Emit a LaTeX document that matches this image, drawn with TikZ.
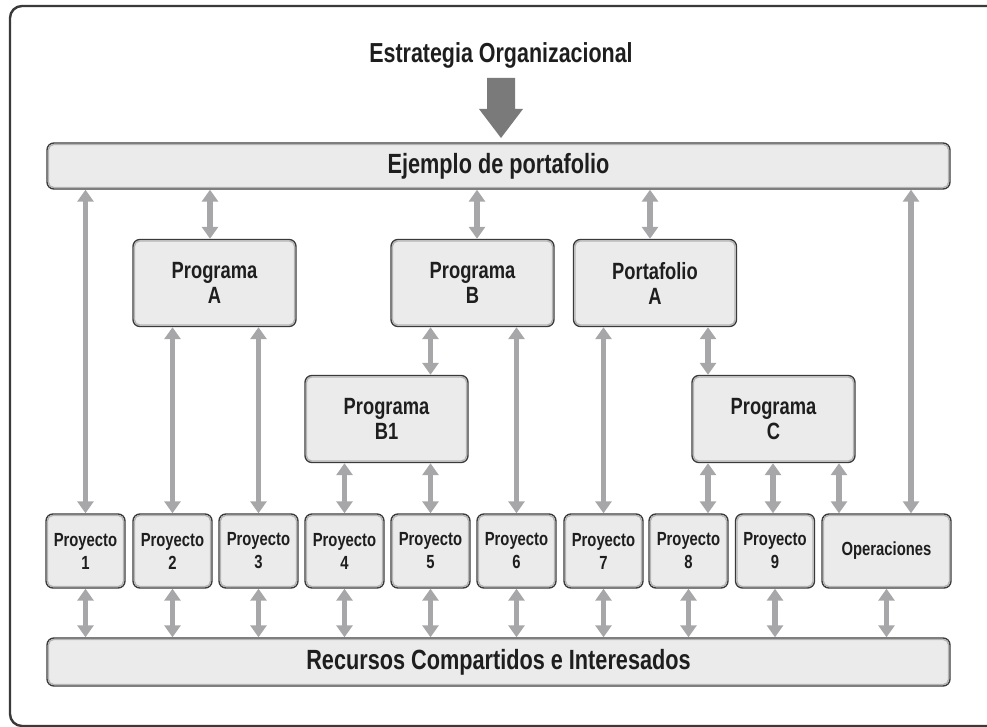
\documentclass[tikz,border=0pt]{standalone}
\usepackage{fontspec}
\setmainfont[FakeStretch=0.78]{Liberation Sans}
\usetikzlibrary{arrows.meta,calc}
\definecolor{boxfill}{HTML}{EBEBEB}
\definecolor{boxline}{HTML}{3A3A3A}
\definecolor{bandgray}{HTML}{B4B4B4}
\definecolor{arrgray}{HTML}{A7A7A9}
\definecolor{bigarr}{HTML}{7A7A7A}
\definecolor{txt}{HTML}{1E1E1E}
\begin{document}
\begin{tikzpicture}[x=1pt,y=-1pt,
  box/.style={draw=boxline, fill=boxfill, line width=1.4pt, rounded corners=7pt,
    inner sep=0pt, align=center, text=txt},
  band/.style={bandgray, line width=1.4pt, rounded corners=5pt},
  bar/.style={box, minimum width=903pt, font=\bfseries\fontsize{27.8}{29}\selectfont},
  prog/.style={box, minimum width=163pt, minimum height=87pt,
    font=\bfseries\fontsize{23.5}{25}\selectfont},
  proj/.style={box, minimum width=79pt, minimum height=74pt,
    font=\bfseries\fontsize{19}{23}\selectfont},
  bia/.style={draw=arrgray, line width=5.5pt,
    {Triangle[width=16pt,length=12pt]}-{Triangle[width=16pt,length=12pt]}}
]
\useasboundingbox (0,0) rectangle (987,727);
\begin{scope}
\clip (0,0) rectangle (987,727);
\draw[boxline, line width=2.4pt, rounded corners=12pt] (10,6) rectangle (1010,726);
\end{scope}

\node[text=txt, font=\bfseries\fontsize{27.5}{29}\selectfont] (title) at (501,55) {Estrategia Organizacional};
\fill[bigarr] (487,78) -- (515,78) -- (515,109) -- (523,109) -- (501,138) -- (479,109) -- (487,109) -- cycle;

\node[bar, minimum height=46pt] (ej) at (498.5,166) {Ejemplo de portafolio};
\node[bar, minimum height=48pt] (rec) at (498.5,662) {Recursos Compartidos e Interesados};

\node[prog] (pa) at (214.5,283) {Programa\\A};
\node[prog] (pb) at (472.5,283) {Programa\\B};
\node[prog] (pfa) at (655,283) {Portafolio\\A};
\node[prog] (pb1) at (386.5,419) {Programa\\B1};
\node[prog] (pc) at (773.5,419) {Programa\\C};

\node[proj] (p1) at (85.5,551) {Proyecto\\1};
\node[proj] (p2) at (172.5,551) {Proyecto\\2};
\node[proj] (p3) at (258.5,551) {Proyecto\\3};
\node[proj] (p4) at (344.5,551) {Proyecto\\4};
\node[proj] (p5) at (430.5,551) {Proyecto\\5};
\node[proj] (p6) at (516.5,551) {Proyecto\\6};
\node[proj] (p7) at (603.5,551) {Proyecto\\7};
\node[proj] (p8) at (688.5,551) {Proyecto\\8};
\node[proj] (p9) at (775,551) {Proyecto\\9};
\node[proj, minimum width=129pt] (op) at (886.5,551) {Operaciones};

% inner shading band of every box
\foreach \n in {ej,rec,pa,pb,pfa,pb1,pc,p1,p2,p3,p4,p5,p6,p7,p8,p9,op}
  \draw[band] ([shift={(2.2pt,-2.2pt)}]\n.north west) rectangle ([shift={(-2.2pt,2.2pt)}]\n.south east);

\coordinate (xpa) at (210,0);
\coordinate (xpb) at (477,0);
\coordinate (xpfa) at (650,0);
\coordinate (xop) at (911,0);
\coordinate (xc8) at (708,0);
\coordinate (xc9) at (773,0);
\coordinate (xcop) at (839,0);

% from portfolio bar
\draw[bia] (ej.south -| p1.north) -- (p1.north);
\draw[bia] (ej.south -| xpa) -- (pa.north -| xpa);
\draw[bia] (ej.south -| xpb) -- (pb.north -| xpb);
\draw[bia] (ej.south -| xpfa) -- (pfa.north -| xpfa);
\draw[bia] (ej.south -| xop) -- (op.north -| xop);

% programs to projects
\draw[bia] (pa.south -| p2.north) -- (p2.north);
\draw[bia] (pa.south -| p3.north) -- (p3.north);
\draw[bia] (pb.south -| p5.north) -- (pb1.north -| p5.north);
\draw[bia] (pb.south -| p6.north) -- (p6.north);
\draw[bia] (pb1.south -| p4.north) -- (p4.north);
\draw[bia] (pb1.south -| p5.north) -- (p5.north);
\draw[bia] (pfa.south -| p7.north) -- (p7.north);
\draw[bia] (pfa.south -| xc8) -- (pc.north -| xc8);
\draw[bia] (pc.south -| xc8) -- (p8.north -| xc8);
\draw[bia] (pc.south -| xc9) -- (p9.north -| xc9);
\draw[bia] (pc.south -| xcop) -- (op.north -| xcop);

% projects to shared resources
\foreach \p in {p1,p2,p3,p4,p5,p6,p7,p8,p9,op}
  \draw[bia] (\p.south) -- (rec.north -| \p.south);
\end{tikzpicture}
\end{document}
